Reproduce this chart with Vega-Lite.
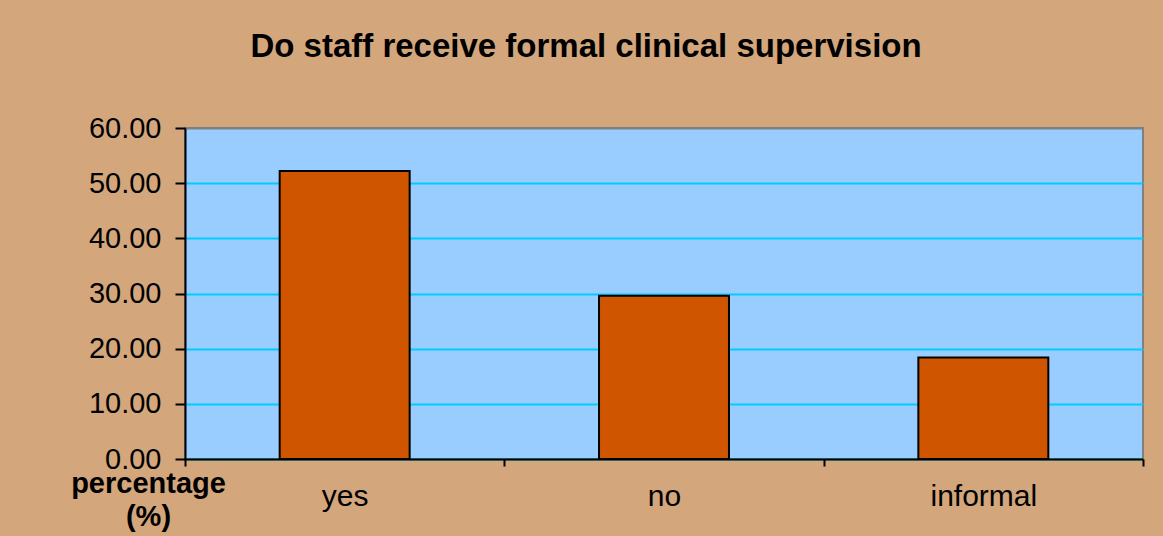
{
  "$schema": "https://vega.github.io/schema/vega-lite/v6.json",
  "width": 958,
  "height": 331,
  "autosize": {"type": "none"},
  "padding": {"left": 185, "top": 128, "right": 20, "bottom": 77},
  "background": "#D3A67C",
  "title": {
    "text": "Do staff receive formal clinical supervision",
    "font": "Liberation Sans",
    "fontSize": 33,
    "fontWeight": "bold",
    "color": "#000000",
    "anchor": "middle",
    "dx": -78,
    "baseline": "alphabetic",
    "offset": 24
  },
  "config": {
    "view": {"fill": "#99CCFF", "stroke": "#808080", "strokeWidth": 2},
    "font": "Liberation Sans"
  },
  "data": {
    "values": [
      {"answer": "yes", "percentage": 52.2},
      {"answer": "no", "percentage": 29.6},
      {"answer": "informal", "percentage": 18.4}
    ]
  },
  "mark": {"type": "bar", "color": "#D05500", "stroke": "#000000", "strokeWidth": 2, "width": {"band": 0.407}},
  "encoding": {
    "x": {
      "field": "answer",
      "type": "nominal",
      "sort": null,
      "scale": {"paddingInner": 0, "paddingOuter": 0},
      "axis": {
        "title": null,
        "labelAngle": 0,
        "labelFont": "Liberation Sans",
        "labelFontSize": 30,
        "labelColor": "#000000",
        "labelBaseline": "alphabetic",
        "labelPadding": 39,
        "tickBand": "extent",
        "tickSize": 7,
        "tickColor": "#000000",
        "tickWidth": 2,
        "domainColor": "#000000",
        "domainWidth": 2
      }
    },
    "y": {
      "field": "percentage",
      "type": "quantitative",
      "scale": {"domain": [0, 60]},
      "axis": {
        "values": [0, 10, 20, 30, 40, 50, 60],
        "format": ".2f",
        "title": ["percentage", "(%)"],
        "titleAngle": 0,
        "titleAlign": "center",
        "titleBaseline": "alphabetic",
        "titleX": -37,
        "titleY": 364,
        "titleLineHeight": 33,
        "titleFont": "Liberation Sans",
        "titleFontSize": 29,
        "titleFontWeight": "bold",
        "titleColor": "#000000",
        "labelFont": "Liberation Sans",
        "labelFontSize": 29,
        "labelColor": "#000000",
        "labelPadding": 14,
        "tickSize": 10,
        "tickColor": "#000000",
        "tickWidth": 2,
        "domainColor": "#000000",
        "domainWidth": 2,
        "grid": true,
        "gridColor": {"condition": {"test": "datum.value === 60", "value": "#808080"}, "value": "#00CCFF"},
        "gridWidth": 2
      }
    }
  }
}
